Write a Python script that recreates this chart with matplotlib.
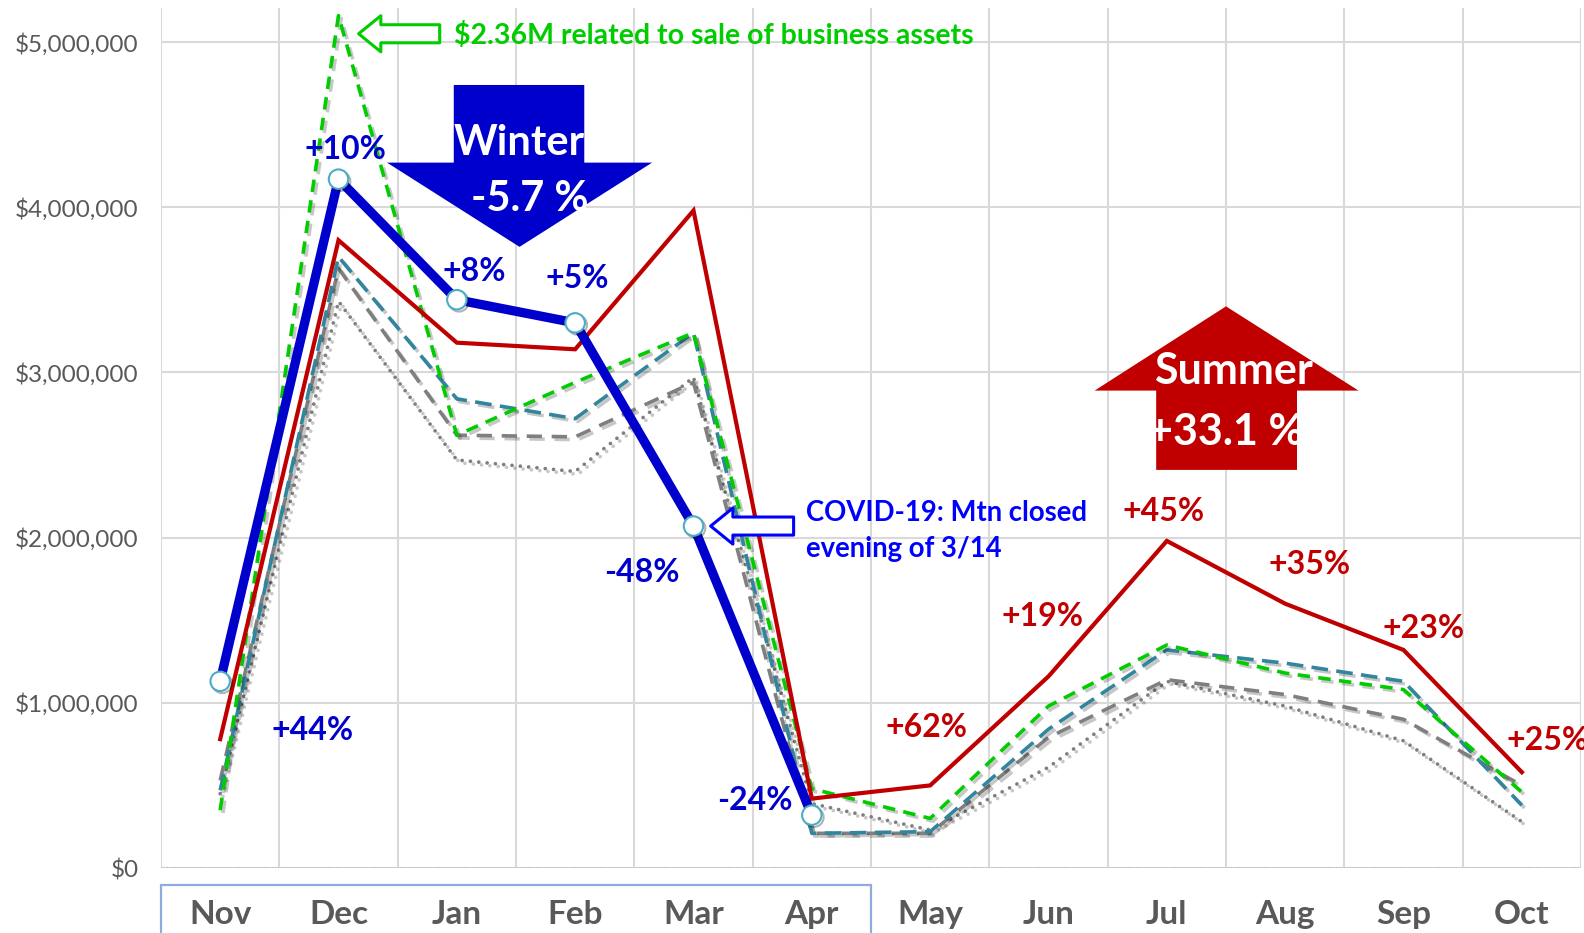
import numpy as np
import matplotlib
matplotlib.use("Agg")
import matplotlib.pyplot as plt
import matplotlib.patheffects as pe
from matplotlib.patches import Polygon, Rectangle
from matplotlib.transforms import blended_transform_factory

plt.rcParams['font.family'] = ['Lato', 'DejaVu Sans']
plt.rcParams['lines.scale_dashes'] = False

# ---- data (dollars, millions) ----
months = ["Nov", "Dec", "Jan", "Feb", "Mar", "Apr",
          "May", "Jun", "Jul", "Aug", "Sep", "Oct"]
season_now = [1.13, 4.17, 3.44, 3.30, 2.07, 0.32]
season_red = [0.78, 3.80, 3.18, 3.14, 3.98, 0.42, 0.50, 1.16, 1.98, 1.60, 1.32, 0.58]
season_green = [0.35, 5.16, 2.62, 2.94, 3.24, 0.48, 0.30, 0.98, 1.35, 1.18, 1.08, 0.46]
season_teal = [0.47, 3.70, 2.84, 2.72, 3.24, 0.21, 0.22, 0.84, 1.32, 1.24, 1.13, 0.38]
season_gray = [0.53, 3.63, 2.62, 2.61, 2.94, 0.21, 0.21, 0.79, 1.14, 1.05, 0.90, 0.50]
season_dot = [0.45, 3.43, 2.47, 2.40, 2.97, 0.39, 0.23, 0.61, 1.13, 0.98, 0.77, 0.28]
yticks = [0, 1e6, 2e6, 3e6, 4e6, 5e6]

blue_pct = ["+44%", "+10%", "+8%", "+5%", "-48%", "-24%"]
red_pct = ["+62%", "+19%", "+45%", "+35%", "+23%", "+25%"]

BLUE = "#0000CC"
RED = "#C00000"
GREEN = "#00CC00"
TEAL = "#31859C"
GRAY = "#7F7F7F"
TXT = "#595959"

fig = plt.figure(figsize=(15.84, 9.33), dpi=100)
ax = fig.add_axes([161/1584, 65/933, 1420/1584, 860/933])
ax.set_xlim(-0.5, 11.5)
ax.set_ylim(0, 5.206e6)
for s in ax.spines.values():
    s.set_visible(False)

x = np.arange(len(months))
M = 1e6

# grid
ax.set_yticks(yticks)
ax.set_yticklabels(["${:,.0f}".format(v) for v in yticks])
ax.set_xticks(x)
ax.set_xticklabels(months, fontweight="bold")
ax.set_xticks(np.arange(-0.5, 12, 1), minor=True)
ax.tick_params(axis="y", length=0, pad=16, labelsize=17.5, labelcolor=TXT)
ax.tick_params(axis="x", which="both", length=0, pad=23, labelsize=24, labelcolor=TXT)
ax.grid(axis="y", which="major", color="#D9D9D9", lw=1.5, zorder=0)
ax.grid(axis="x", which="minor", color="#D9D9D9", lw=1.5, zorder=0)
ax.set_axisbelow(True)
ax.axhline(0, color="#BFBFBF", lw=1.5, ls=(0, (1, 1)), zorder=1)

# box around winter month labels
tr = blended_transform_factory(ax.transData, fig.transFigure)
ax.add_patch(Rectangle((-0.5, -0.05), 6, 0.05 + 48/933, transform=tr,
                       fill=False, ec="#8FAADC", lw=1.6, clip_on=False))

shadow = [pe.SimpleLineShadow(offset=(2, -2), shadow_color="k", alpha=0.22), pe.Normal()]

ax.plot(x, np.array(season_dot)*M, color=GRAY, lw=2.7, ls=(0, (0.01, 6)),
        dash_capstyle="round", zorder=2, path_effects=shadow)
ax.plot(x, np.array(season_gray)*M, color=GRAY, lw=2.6, ls=(0, (11, 7)),
        zorder=3, path_effects=shadow)
ax.plot(x, np.array(season_teal)*M, color=TEAL, lw=2.6, ls=(0, (12, 6)),
        zorder=4, path_effects=shadow)
ax.plot(x, np.array(season_green)*M, color=GREEN, lw=2.6, ls=(0, (9, 6)),
        zorder=5, path_effects=shadow)
ax.plot(x, np.array(season_red)*M, color=RED, lw=3, zorder=6,
        solid_joinstyle="miter")
xb = x[:len(season_now)]
ax.plot(xb, np.array(season_now)*M, color=BLUE, lw=6.7, zorder=7,
        solid_joinstyle="miter")
ax.plot(xb, np.array(season_now)*M, ls="none", marker="o", ms=14,
        mfc="white", mec="#4BACC6", mew=1.5, zorder=8,
        path_effects=[pe.SimpleLineShadow(offset=(1.5, -1.5), alpha=0.3), pe.Normal()])

# percentage labels
blue_pos = [(0.78, 0.835), (1.06, 4.35), (2.15, 3.61), (3.02, 3.57), (3.56, 1.79), (4.52, 0.41)]
for t, (px, py) in zip(blue_pct, blue_pos):
    ax.text(px, py*M, t, color=BLUE, fontsize=23, fontweight="bold",
            ha="center", va="center", zorder=10)
red_pos = [(5.97, 0.85), (6.95, 1.52), (7.97, 2.16), (9.21, 1.84), (10.17, 1.45), (10.87, 0.77)]
for i, (t, (px, py)) in enumerate(zip(red_pct, red_pos)):
    ax.text(px, py*M, t, color=RED, fontsize=23, fontweight="bold",
            ha="left" if i == len(red_pct) - 1 else "center", va="center",
            zorder=10, clip_on=False)

# winter arrow
winter = Polygon([(1.974, 4.74*M), (3.077, 4.74*M), (3.077, 4.27*M), (3.65, 4.27*M),
                  (2.53, 3.76*M), (1.41, 4.27*M), (1.974, 4.27*M)],
                 closed=True, fc=BLUE, ec="none", zorder=11)
ax.add_patch(winter)
t1 = ax.text(2.53, 4.39*M, "Winter", color="white", fontsize=30, fontweight="bold",
             ha="center", va="center", zorder=12)
t1.set_clip_path(winter)
t2 = ax.text(2.62, 4.05*M, "-5.7 %", color="white", fontsize=30, fontweight="bold",
             ha="center", va="center", zorder=12)
t2.set_clip_path(winter)

# summer arrow
summer = Polygon([(7.91, 2.41*M), (9.10, 2.41*M), (9.10, 2.89*M), (9.62, 2.89*M),
                  (8.50, 3.40*M), (7.39, 2.89*M), (7.91, 2.89*M)],
                 closed=True, fc=RED, ec="none", zorder=11)
ax.add_patch(summer)
t3 = ax.text(8.56, 3.01*M, "Summer", color="white", fontsize=31, fontweight="bold",
             ha="center", va="center", zorder=12)
t3.set_clip_path(summer)
t4 = ax.text(8.50, 2.64*M, "+33.1 %", color="white", fontsize=31, fontweight="bold",
             ha="center", va="center", zorder=12)
t4.set_clip_path(summer)

# hollow arrows with notes
arrow_style = "simple,head_length=1.6,head_width=2.6,tail_width=1.3"
ax.annotate("", xy=(1.17, 5.05*M), xytext=(1.855, 5.05*M), annotation_clip=False,
            arrowprops=dict(arrowstyle=arrow_style, fc="white", ec=GREEN, lw=2.2,
                            shrinkA=0, shrinkB=0, mutation_scale=10), zorder=12)
ax.text(1.98, 5.04*M, "$2.36M related to sale of business assets", color=GREEN,
        fontsize=20.5, fontweight="bold", ha="left", va="center", zorder=12)

ax.annotate("", xy=(4.145, 2.07*M), xytext=(4.846, 2.07*M),
            arrowprops=dict(arrowstyle=arrow_style, fc="white", ec="#0000FF", lw=2.2,
                            shrinkA=0, shrinkB=0, mutation_scale=10), zorder=12)
ax.text(4.95, 2.15*M, "COVID-19: Mtn closed", color="#0000FF", fontsize=19.8,
        fontweight="bold", ha="left", va="center", zorder=12)
ax.text(4.95, 1.93*M, "evening of 3/14", color="#0000FF", fontsize=19.8,
        fontweight="bold", ha="left", va="center", zorder=12)

fig.savefig("out.png", dpi=100)
